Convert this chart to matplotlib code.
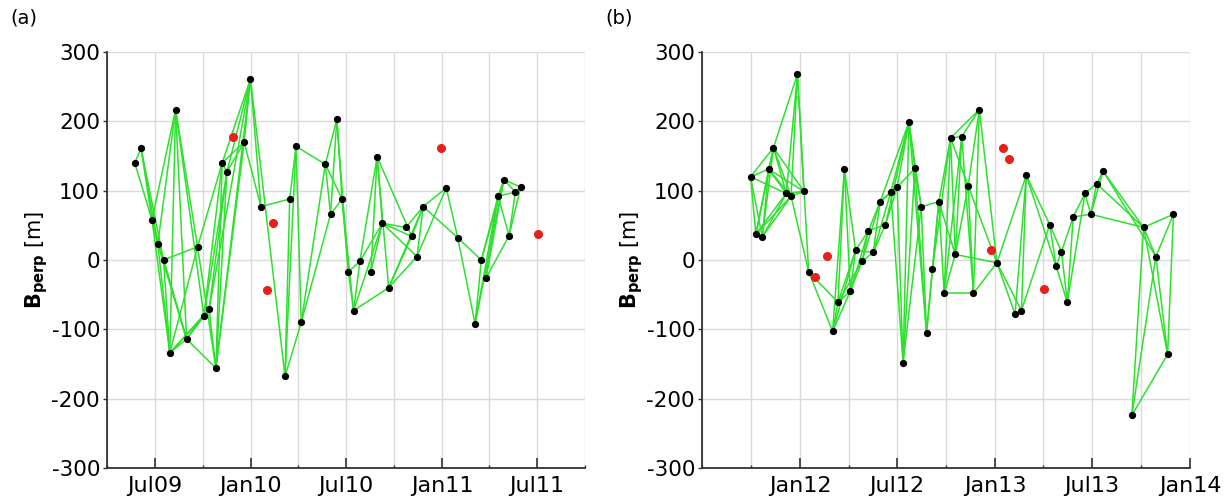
import numpy as np
import matplotlib
matplotlib.use("Agg")
import matplotlib.pyplot as plt
import matplotlib.dates as mdates
from datetime import datetime

plt.rcParams["axes.unicode_minus"] = False

# ---------------- Panel (a) data ----------------
dates_a = ["2009-05-24", "2009-06-05", "2009-06-26", "2009-07-07", "2009-07-18", "2009-07-30",
           "2009-08-10", "2009-08-31", "2009-09-21", "2009-10-03", "2009-10-13", "2009-10-26",
           "2009-11-07", "2009-11-16", "2009-12-19", "2009-12-31", "2010-01-20", "2010-03-07",
           "2010-03-16", "2010-03-28", "2010-04-07", "2010-05-23", "2010-06-02", "2010-06-14",
           "2010-06-24", "2010-07-06", "2010-07-16", "2010-07-28", "2010-08-18", "2010-08-30",
           "2010-09-09", "2010-09-21", "2010-10-24", "2010-11-04", "2010-11-14", "2010-11-26",
           "2011-01-09", "2011-01-31", "2011-03-05", "2011-03-17", "2011-03-26", "2011-04-18",
           "2011-04-29", "2011-05-09", "2011-05-21", "2011-05-31"]
bperp_a = [140, 161, 58, 23, 0, -134, 217, -114, 19, -81, -71, -156,
           140, 127, 170, 261, 77, -168, 88, 164, -90, 138, 66, 203,
           88, -17, -73, -2, -17, 149, 53, -40, 47, 34, 5, 77,
           104, 32, -92, 0, -26, 92, 116, 35, 98, 105]
edges_a = [(0, 1), (0, 2), (1, 2), (1, 3), (1, 4), (2, 3), (2, 5), (2, 6), (2, 7), (3, 5),
           (3, 6), (3, 7), (4, 5), (4, 7), (4, 8), (5, 6), (5, 7), (5, 8), (5, 9), (5, 10),
           (6, 7), (6, 8), (6, 9), (7, 9), (7, 10), (7, 11), (8, 11), (8, 12), (9, 12),
           (9, 13), (10, 11), (10, 13), (10, 15), (11, 12), (11, 13), (11, 14), (11, 15),
           (12, 13), (12, 14), (12, 15), (13, 15), (13, 14), (14, 15), (14, 16), (15, 16),
           (15, 17), (16, 18), (17, 18), (17, 19), (17, 20), (18, 19), (19, 20), (19, 21),
           (20, 21), (20, 22), (21, 22), (21, 23), (21, 24), (22, 23), (22, 24), (23, 24),
           (23, 25), (24, 25), (24, 26), (25, 26), (25, 27), (26, 27), (26, 30), (26, 31),
           (27, 29), (27, 30), (28, 29), (28, 30), (29, 30), (29, 31), (29, 33), (30, 32),
           (30, 33), (30, 34), (31, 33), (31, 34), (31, 35), (32, 35), (33, 35), (34, 35),
           (34, 36), (35, 36), (35, 37), (36, 37), (37, 38), (37, 39), (38, 39), (38, 41),
           (38, 42), (39, 41), (39, 42), (40, 41), (40, 42), (40, 43), (41, 42), (41, 43),
           (41, 44), (42, 44), (42, 45), (43, 45), (44, 45), (43, 44)]
red_dates_a = ["2009-11-28", "2010-02-01", "2010-02-13", "2010-12-30", "2011-07-03"]
red_bperp_a = [177, -43, 53, 162, 38]
xlim_a = ["2009-04-01", "2011-10-01"]
major_a = ["2009-07-01", "2010-01-01", "2010-07-01", "2011-01-01", "2011-07-01"]
labels_a = ["Jul09", "Jan10", "Jul10", "Jan11", "Jul11"]
minor_a = ["2009-04-01", "2009-10-01", "2010-04-01", "2010-10-01", "2011-04-01", "2011-10-01"]

# ---------------- Panel (b) data ----------------
dates_b = ["2011-09-30", "2011-10-10", "2011-10-22", "2011-11-03", "2011-11-12", "2011-12-06",
           "2011-12-15", "2011-12-27", "2012-01-08", "2012-01-17", "2012-03-02", "2012-03-12",
           "2012-03-24", "2012-04-04", "2012-04-14", "2012-04-26", "2012-05-08", "2012-05-17",
           "2012-05-30", "2012-06-09", "2012-06-19", "2012-07-01", "2012-07-12", "2012-07-23",
           "2012-08-03", "2012-08-15", "2012-08-25", "2012-09-05", "2012-09-17", "2012-09-27",
           "2012-10-09", "2012-10-18", "2012-10-30", "2012-11-11", "2012-11-21", "2012-12-02",
           "2013-01-04", "2013-02-07", "2013-02-19", "2013-02-28", "2013-04-13", "2013-04-25",
           "2013-05-05", "2013-05-16", "2013-05-27", "2013-06-18", "2013-06-29", "2013-07-10",
           "2013-07-22", "2013-09-14", "2013-10-06", "2013-10-29", "2013-11-20", "2013-12-01"]
bperp_b = [120, 37, 33, 131, 162, 96, 92, 268, 99, -17, -103, -61,
           131, -45, 14, -2, 42, 11, 84, 51, 98, 105, -149, 199,
           132, 77, -106, -13, 84, -48, 176, 8, 178, 107, -48, 217,
           -4, -78, -73, 122, 51, -9, 12, -61, 62, 96, 66, 110,
           128, -224, 47, 5, -136, 66]
edges_b = [(0, 1), (0, 2), (0, 3), (0, 4), (0, 5), (1, 3), (1, 4), (1, 5), (1, 6), (2, 3),
           (2, 4), (2, 5), (2, 6), (3, 4), (3, 5), (3, 6), (3, 8), (4, 5), (4, 6), (4, 7),
           (4, 8), (5, 7), (5, 8), (6, 7), (6, 8), (6, 9), (7, 8), (7, 9), (9, 10), (9, 11),
           (10, 11), (10, 12), (10, 13), (10, 14), (11, 12), (11, 13), (11, 14), (11, 15),
           (12, 13), (12, 14), (13, 14), (13, 15), (13, 16), (14, 16), (14, 17), (15, 16),
           (15, 17), (15, 18), (16, 18), (16, 19), (17, 18), (17, 19), (17, 20), (18, 20),
           (18, 21), (18, 23), (19, 21), (19, 23), (20, 22), (20, 23), (21, 22), (21, 23),
           (21, 24), (22, 23), (22, 24), (22, 25), (23, 24), (23, 25), (23, 26), (24, 25),
           (24, 26), (25, 26), (25, 28), (26, 27), (26, 28), (27, 28), (27, 30), (28, 29),
           (28, 30), (28, 31), (29, 30), (29, 31), (29, 32), (29, 34), (30, 31), (30, 32),
           (30, 33), (30, 35), (31, 32), (31, 33), (31, 36), (32, 34), (32, 35), (33, 34),
           (33, 35), (33, 36), (34, 35), (34, 36), (35, 36), (36, 37), (36, 38), (36, 39),
           (37, 39), (38, 39), (38, 40), (39, 40), (39, 41), (40, 41), (40, 42), (41, 42),
           (41, 43), (42, 43), (42, 44), (43, 44), (43, 45), (44, 45), (44, 46), (45, 46),
           (45, 47), (46, 47), (46, 48), (46, 50), (47, 48), (47, 50), (48, 50), (48, 51),
           (49, 50), (49, 51), (49, 52), (50, 51), (50, 52), (50, 53), (51, 52), (51, 53),
           (52, 53)]
red_dates_b = ["2012-01-29", "2012-02-20", "2012-12-24", "2013-01-16", "2013-01-26", "2013-04-02"]
red_bperp_b = [-25, 6, 14, 162, 146, -42]
xlim_b = ["2011-07-01", "2014-01-01"]
major_b = ["2012-01-01", "2012-07-01", "2013-01-01", "2013-07-01", "2014-01-01"]
labels_b = ["Jan12", "Jul12", "Jan13", "Jul13", "Jan14"]
minor_b = ["2011-07-01", "2011-10-01", "2012-04-01", "2012-10-01", "2013-04-01", "2013-10-01"]

yticks = [-300, -200, -100, 0, 100, 200, 300]

GREEN = "#2ee02e"
GRID = "#dadada"


def to_num(lst):
    return mdates.date2num([datetime.strptime(s, "%Y-%m-%d") for s in lst])


def draw(ax, dates, bperp, edges, rdates, rbperp, xlim, major, labels, minor):
    x = to_num(dates)
    y = np.array(bperp, dtype=float)
    for i, j in edges:
        ax.plot([x[i], x[j]], [y[i], y[j]], color=GREEN, lw=1.1, zorder=2,
                solid_capstyle="round")
    ax.plot(x, y, "o", color="black", ms=4.2, zorder=4)
    ax.plot(to_num(rdates), rbperp, "o", color="#e8201c", ms=5.5, zorder=4)
    ax.set_xlim(to_num(xlim))
    ax.set_ylim(-300, 300)
    ax.set_yticks(yticks)
    ax.set_xticks(to_num(major))
    ax.set_xticklabels(labels)
    ax.set_xticks(to_num(minor), minor=True)
    ax.grid(True, which="both", color=GRID, lw=1.0, zorder=0)
    ax.set_axisbelow(True)
    for s in ["top", "right"]:
        ax.spines[s].set_visible(False)
    for s in ["left", "bottom"]:
        ax.spines[s].set_color("#333333")
        ax.spines[s].set_linewidth(1.3)
    ax.tick_params(axis="x", which="major", direction="in", length=7, width=1.2,
                   labelsize=16, pad=6, colors="#333333", labelcolor="black")
    ax.tick_params(axis="x", which="minor", direction="in", length=2.5, width=1.0,
                   colors="#333333")
    ax.tick_params(axis="y", direction="out", length=3, width=1.0, labelsize=15.5,
                   pad=2, colors="#333333", labelcolor="black")
    ax.set_ylabel(r"$\mathbf{B_{perp}}$ [m]", fontsize=15, labelpad=1)


fig = plt.figure(figsize=(12.31, 5.01), dpi=100)
ax1 = fig.add_axes([107 / 1231, 33 / 501, 478 / 1231, 416 / 501])
ax2 = fig.add_axes([702 / 1231, 33 / 501, 488 / 1231, 416 / 501])

draw(ax1, dates_a, bperp_a, edges_a, red_dates_a, red_bperp_a, xlim_a, major_a, labels_a, minor_a)
draw(ax2, dates_b, bperp_b, edges_b, red_dates_b, red_bperp_b, xlim_b, major_b, labels_b, minor_b)

fig.text(10 / 1231, 1 - 18 / 501, "(a)", fontsize=14, va="center", ha="left")
fig.text(605 / 1231, 1 - 18 / 501, "(b)", fontsize=14, va="center", ha="left")

fig.savefig("out.png", dpi=100)
